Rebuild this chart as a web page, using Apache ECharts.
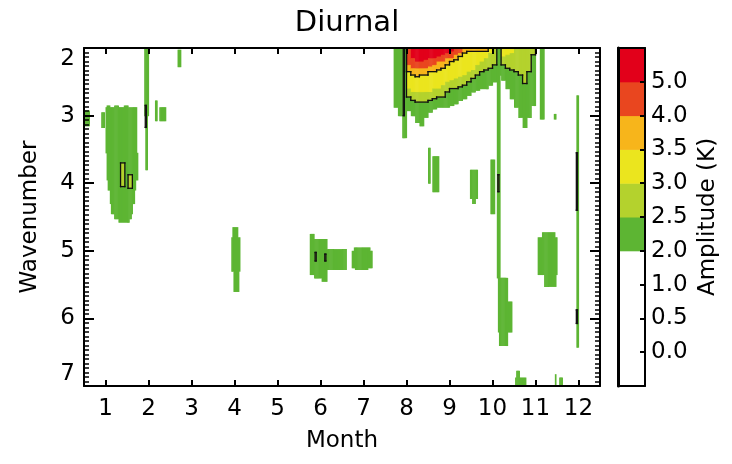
<!DOCTYPE html>
<html>
<head>
<meta charset="utf-8">
<script src="https://cdn.jsdelivr.net/npm/echarts@6/dist/echarts.min.js"></script>
<style>
  html, body { margin: 0; padding: 0; background: #fff; }
  #chart { width: 732px; height: 464px; }
</style>
</head>
<body>
<div id="chart"></div>
<script>
const FONT = 'DejaVu Sans';

// amplitude levels (K) and their fill colours
const levelBounds = [2.0, 2.5, 3.0, 3.5, 4.0, 5.0];
const levelColors = ['#5db533', '#b4d22d', '#ebe51e', '#f7b51b', '#e9461f', '#e2001a'];

const monthTicks = [1, 2, 3, 4, 5, 6, 7, 8, 9, 10, 11, 12];

// Aug-Nov block hanging from wavenumber 2: for each month column,
// the wavenumber down to which the amplitude stays above each level
const topMonths = [7.7, 7.8, 7.9, 8.0, 8.1, 8.2, 8.3, 8.4, 8.5, 8.6, 8.7, 8.8, 8.9, 9.0, 9.1, 9.2, 9.3, 9.4,
  9.5, 9.6, 9.7, 9.8, 9.9, 10.0, 10.1, 10.2, 10.3, 10.4, 10.5, 10.6, 10.7, 10.8, 10.9, 11.0, 11.1];
const depth20 = [2.88, 2.99, 3.33, 2.93, 2.99, 3.09, 3.15, 3.03, 2.94, 2.91, 2.88, 2.87, 2.87, 2.85, 2.82, 2.78, 2.75, 2.70,
  2.66, 2.63, 2.60, 2.59, 2.56, 2.51, 2.39, 2.47, 2.61, 2.76, 2.88, 3.03, 3.18, 3.03, 2.84, 2.0, 3.06];
const depth25 = [2.0, 2.0, 2.0, 2.72, 2.78, 2.81, 2.81, 2.79, 2.78, 2.76, 2.73, 2.72, 2.66, 2.61, 2.59, 2.57, 2.54, 2.50,
  2.45, 2.39, 2.36, 2.33, 2.30, 2.26, 2.0, 2.26, 2.29, 2.32, 2.35, 2.41, 2.53, 2.35, 2.11, 2.0, 2.0];
const depth30 = [2.0, 2.0, 2.0, 2.60, 2.64, 2.66, 2.66, 2.64, 2.64, 2.61, 2.59, 2.56, 2.51, 2.47, 2.45, 2.42, 2.39, 2.36,
  2.32, 2.26, 2.21, 2.14, 2.08, 2.0, 2.0, 2.13, 2.11, 2.07, 2.0, 2.0, 2.0, 2.0, 2.0, 2.0, 2.0];
const depth35 = [2.0, 2.0, 2.0, 2.36, 2.41, 2.42, 2.41, 2.39, 2.36, 2.35, 2.32, 2.29, 2.26, 2.21, 2.17, 2.13, 2.08, 2.05,
  2.05, 2.04, 2.04, 2.04, 2.0, 2.0, 2.0, 2.0, 2.0, 2.0, 2.0, 2.0, 2.0, 2.0, 2.0, 2.0, 2.0];
const depth40 = [2.0, 2.0, 2.0, 2.26, 2.29, 2.29, 2.30, 2.30, 2.27, 2.24, 2.21, 2.19, 2.16, 2.14, 2.11, 2.07, 2.0, 2.0,
  2.0, 2.0, 2.0, 2.0, 2.0, 2.0, 2.0, 2.0, 2.0, 2.0, 2.0, 2.0, 2.0, 2.0, 2.0, 2.0, 2.0];
const depth50 = [2.0, 2.0, 2.0, 2.0, 2.14, 2.19, 2.20, 2.17, 2.16, 2.14, 2.13, 2.11, 2.08, 2.04, 2.0, 2.0, 2.0, 2.0,
  2.0, 2.0, 2.0, 2.0, 2.0, 2.0, 2.0, 2.0, 2.0, 2.0, 2.0, 2.0, 2.0, 2.0, 2.0, 2.0, 2.0];

// isolated patches: [monthFrom, monthTo, wavenumberFrom, wavenumberTo, amplitude]
const patches = [
  [0.50, 0.62, 2.93, 3.15, 2.2],
  // January, wavenumber 3-4.5
  [0.90, 0.97, 2.94, 3.18, 2.2],
  [1.00, 1.72, 2.88, 3.55, 2.2],
  [1.02, 1.10, 2.85, 2.88, 2.2],
  [1.20, 1.30, 2.84, 2.88, 2.2],
  [1.42, 1.52, 2.85, 2.88, 2.2],
  [1.02, 1.74, 3.55, 3.95, 2.2],
  [1.05, 1.70, 3.95, 4.10, 2.2],
  [1.09, 1.67, 4.10, 4.30, 2.2],
  [1.12, 1.63, 4.30, 4.45, 2.2],
  [1.20, 1.60, 4.45, 4.52, 2.2],
  [1.30, 1.55, 4.52, 4.58, 2.2],
  [1.35, 1.45, 3.70, 4.05, 2.7],
  [1.52, 1.63, 3.88, 4.08, 2.7],
  // February
  [1.90, 2.00, 2.00, 3.00, 2.2],
  [1.92, 1.98, 3.00, 3.80, 2.2],
  [1.925, 1.95, 2.86, 3.17, 2.7],
  [2.15, 2.20, 2.78, 3.07, 2.2],
  [2.25, 2.40, 2.87, 3.07, 2.2],
  [2.67, 2.74, 2.03, 2.27, 2.2],
  // April
  [3.95, 4.08, 4.66, 4.80, 2.2],
  [3.92, 4.12, 4.80, 5.30, 2.2],
  [3.97, 4.10, 5.30, 5.60, 2.2],
  // June / July
  [5.74, 5.86, 4.74, 5.34, 2.2],
  [5.86, 6.02, 4.83, 5.39, 2.2],
  [6.02, 6.16, 4.83, 5.46, 2.2],
  [6.16, 6.60, 4.97, 5.28, 2.2],
  [5.875, 5.90, 5.02, 5.15, 2.7],
  [6.10, 6.125, 5.04, 5.15, 2.7],
  [6.72, 7.21, 5.00, 5.25, 2.2],
  [6.78, 7.15, 4.96, 5.00, 2.2],
  [6.80, 7.10, 5.25, 5.28, 2.2],
  // August / September
  [7.925, 7.95, 2.00, 3.01, 2.7],
  [8.49, 8.56, 3.47, 4.00, 2.2],
  [8.61, 8.75, 3.60, 4.12, 2.2],
  [9.47, 9.65, 3.80, 4.22, 2.2],
  [9.52, 9.60, 4.22, 4.30, 2.2],
  [9.95, 10.05, 3.65, 4.45, 2.2],
  // October streak
  [10.10, 10.18, 2.39, 5.40, 2.2],
  [10.12, 10.35, 5.40, 5.75, 2.2],
  [10.12, 10.45, 5.75, 6.20, 2.2],
  [10.15, 10.35, 6.20, 6.40, 2.2],
  [10.125, 10.15, 3.88, 4.12, 2.7],
  // November
  [11.05, 11.49, 4.80, 5.35, 2.2],
  [11.15, 11.45, 4.72, 4.80, 2.2],
  [11.20, 11.47, 5.35, 5.53, 2.2],
  [11.42, 11.47, 2.98, 3.04, 2.2],
  // December
  [11.94, 12.00, 2.70, 6.42, 2.2],
  [11.95, 11.975, 3.55, 4.40, 2.7],
  [11.95, 11.975, 5.87, 6.07, 2.7],
  // along wavenumber 7
  [10.52, 10.78, 6.88, 7.00, 2.2],
  [10.55, 10.62, 6.78, 6.88, 2.2],
  [11.44, 11.48, 6.82, 7.00, 2.2],
  [11.55, 11.62, 6.88, 7.00, 2.2]
];

// contour lines drawn at these amplitudes
const contourLevels = [2.5, 3.5];

// colour bar
const barColors = ['#ffffff', '#ffffff', '#ffffff', '#ffffff'].concat(levelColors);
const barTicks = [1, 2, 3, 4, 5, 6, 7, 8, 9];
const barLabels = ['0.0', '0.5', '1.0', '2.0', '2.5', '3.0', '3.5', '4.0', '5.0'];

// ---- raster of level indices (0 = below 2.0 K)
const M0 = 0.5, DM = 0.025, W0 = 2.0, DW = 0.025;
const NC = Math.round((12.5 - M0) / DM), NR = Math.round((7.0 - W0) / DW);
const grid = [];
for (let c = 0; c < NC; c++) grid.push(new Array(NR).fill(0));

function levelOf(a) {
  let k = 0;
  levelBounds.forEach(function (b) { if (a >= b) k++; });
  return k;
}
function paint(m0, m1, w0, w1, lvl) {
  const c0 = Math.round((m0 - M0) / DM), c1 = Math.round((m1 - M0) / DM);
  const r0 = Math.round((w0 - W0) / DW), r1 = Math.round((w1 - W0) / DW);
  for (let c = Math.max(0, c0); c < Math.min(NC, c1); c++)
    for (let r = Math.max(0, r0); r < Math.min(NR, r1); r++)
      if (grid[c][r] < lvl) grid[c][r] = lvl;
}
[depth20, depth25, depth30, depth35, depth40, depth50].forEach(function (depths, k) {
  topMonths.forEach(function (m, i) {
    if (depths[i] > W0) paint(m, m + 0.1, W0, depths[i], k + 1);
  });
});
patches.forEach(function (p) { paint(p[0], p[1], p[2], p[3], levelOf(p[4])); });

// vertical runs of equal level -> cells
const cells = [];
for (let c = 0; c < NC; c++) {
  let r = 0;
  while (r < NR) {
    const v = grid[c][r];
    if (!v) { r++; continue; }
    let e = r;
    while (e < NR && grid[c][e] === v) e++;
    cells.push([M0 + c * DM, M0 + (c + 1) * DM, W0 + r * DW, W0 + e * DW, v]);
    r = e;
  }
}

// contour edges between cells on either side of a level
const edges = [];
contourLevels.forEach(function (a) {
  const t = levelOf(a);
  const on = function (c, r) { return c >= 0 && c < NC && r >= 0 && r < NR && grid[c][r] >= t; };
  for (let c = 0; c < NC - 1; c++) {
    let r = 0;
    while (r < NR) {
      if (on(c, r) === on(c + 1, r)) { r++; continue; }
      let e = r;
      while (e < NR && on(c, e) !== on(c + 1, e)) e++;
      const m = M0 + (c + 1) * DM;
      edges.push([m, W0 + r * DW, m, W0 + e * DW]);
      r = e;
    }
  }
  for (let r = 0; r < NR - 1; r++) {
    let c = 0;
    while (c < NC) {
      if (on(c, r) === on(c, r + 1)) { c++; continue; }
      let e = c;
      while (e < NC && on(e, r) !== on(e, r + 1)) e++;
      const w = W0 + (r + 1) * DW;
      edges.push([M0 + c * DM, w, M0 + e * DM, w]);
      c = e;
    }
  }
});

const chart = echarts.init(document.getElementById('chart'));

const tickStyle = { color: '#000', width: 2 };
const labelStyle = { color: '#000', fontSize: 23, fontFamily: FONT };
const nameStyle = { color: '#000', fontSize: 23, fontFamily: FONT };

chart.setOption({
  animation: false,
  backgroundColor: '#fff',
  title: {
    text: 'Diurnal', left: 342, top: 4, textAlign: 'center',
    textStyle: { fontSize: 29, fontWeight: 'normal', color: '#000', fontFamily: FONT }
  },
  grid: [
    { left: 84, top: 48, width: 516, height: 338 },
    { left: 618, top: 48, width: 27, height: 338 }
  ],
  xAxis: [
    {
      type: 'value', gridIndex: 0, min: 0.5, max: 12.5, position: 'bottom', z: 10,
      axisLine: { onZero: false, lineStyle: tickStyle },
      axisTick: { inside: true, length: 6, customValues: monthTicks, lineStyle: tickStyle },
      axisLabel: { customValues: monthTicks, margin: 12, ...labelStyle },
      splitLine: { show: false },
      name: 'Month', nameLocation: 'middle', nameGap: 44, nameTextStyle: nameStyle
    },
    {
      type: 'value', gridIndex: 0, min: 0.5, max: 12.5, position: 'top', z: 10,
      axisLine: { onZero: false, lineStyle: tickStyle },
      axisTick: { inside: true, length: 6, customValues: monthTicks, lineStyle: tickStyle },
      axisLabel: { show: false },
      splitLine: { show: false }
    },
    {
      type: 'value', gridIndex: 1, min: 0, max: 1, position: 'bottom', z: 10,
      axisLine: { onZero: false, lineStyle: tickStyle }, axisTick: { show: false }, axisLabel: { show: false },
      splitLine: { show: false }
    },
    {
      type: 'value', gridIndex: 1, min: 0, max: 1, position: 'top', z: 10,
      axisLine: { onZero: false, lineStyle: tickStyle }, axisTick: { show: false }, axisLabel: { show: false },
      splitLine: { show: false }
    }
  ],
  yAxis: [
    {
      type: 'value', gridIndex: 0, min: 2, max: 7, interval: 1, inverse: true, position: 'left', z: 10,
      axisLine: { onZero: false, lineStyle: tickStyle },
      axisTick: { inside: true, length: 10, lineStyle: tickStyle },
      minorTick: { show: true, splitNumber: 15, length: 5, lineStyle: { color: '#000', width: 1.5 } },
      axisLabel: { margin: 9, verticalAlignMinLabel: 'top', verticalAlignMaxLabel: 'bottom', ...labelStyle },
      splitLine: { show: false },
      name: 'Wavenumber', nameLocation: 'middle', nameGap: 42, nameRotate: 90, nameTextStyle: nameStyle
    },
    {
      type: 'value', gridIndex: 0, min: 2, max: 7, interval: 1, inverse: true, position: 'right', z: 10,
      axisLine: { onZero: false, lineStyle: tickStyle },
      axisTick: { inside: true, length: 10, lineStyle: tickStyle },
      minorTick: { show: true, splitNumber: 15, length: 5, lineStyle: { color: '#000', width: 1.5 } },
      axisLabel: { show: false },
      splitLine: { show: false }
    },
    {
      type: 'value', gridIndex: 1, min: 0, max: 10, position: 'left', z: 10,
      axisLine: { onZero: false, lineStyle: { color: '#000', width: 3 } }, axisTick: { show: false }, axisLabel: { show: false },
      splitLine: { show: false }
    },
    {
      type: 'value', gridIndex: 1, min: 0, max: 10, position: 'right', z: 10,
      axisLine: { onZero: false, lineStyle: tickStyle },
      axisTick: { inside: true, length: 5, customValues: barTicks, lineStyle: tickStyle },
      axisLabel: {
        customValues: barTicks, margin: 6, ...labelStyle,
        formatter: function (v) { return barLabels[barTicks.indexOf(Math.round(v))] || ''; }
      },
      splitLine: { show: false },
      name: 'Amplitude (K)', nameLocation: 'middle', nameGap: 52, nameRotate: 90, nameTextStyle: nameStyle
    }
  ],
  series: [
    {
      type: 'custom', xAxisIndex: 0, yAxisIndex: 0, clip: true,
      encode: { x: [0, 1], y: [2, 3] },
      data: cells,
      renderItem: function (params, api) {
        const p0 = api.coord([api.value(0), api.value(2)]);
        const p1 = api.coord([api.value(1), api.value(3)]);
        return {
          type: 'rect',
          shape: { x: p0[0], y: Math.min(p0[1], p1[1]), width: p1[0] - p0[0] + 0.6, height: Math.abs(p1[1] - p0[1]) + 0.6 },
          style: { fill: levelColors[api.value(4) - 1] }
        };
      }
    },
    {
      type: 'custom', xAxisIndex: 0, yAxisIndex: 0, clip: true,
      encode: { x: [0, 2], y: [1, 3] },
      data: edges,
      renderItem: function (params, api) {
        const a = api.coord([api.value(0), api.value(1)]);
        const b = api.coord([api.value(2), api.value(3)]);
        return {
          type: 'line',
          shape: { x1: a[0], y1: a[1], x2: b[0], y2: b[1] },
          style: { stroke: '#111', lineWidth: 1.3, lineCap: 'square' }
        };
      }
    },
    {
      type: 'custom', xAxisIndex: 2, yAxisIndex: 3,
      data: barColors.map(function (c, i) { return [i]; }),
      renderItem: function (params, api) {
        const i = api.value(0);
        const p0 = api.coord([0, i + 1]);
        const p1 = api.coord([1, i]);
        return {
          type: 'rect',
          shape: { x: p0[0], y: p0[1], width: p1[0] - p0[0], height: p1[1] - p0[1] + 0.5 },
          style: { fill: barColors[i] }
        };
      }
    }
  ]
});
</script>
</body>
</html>
